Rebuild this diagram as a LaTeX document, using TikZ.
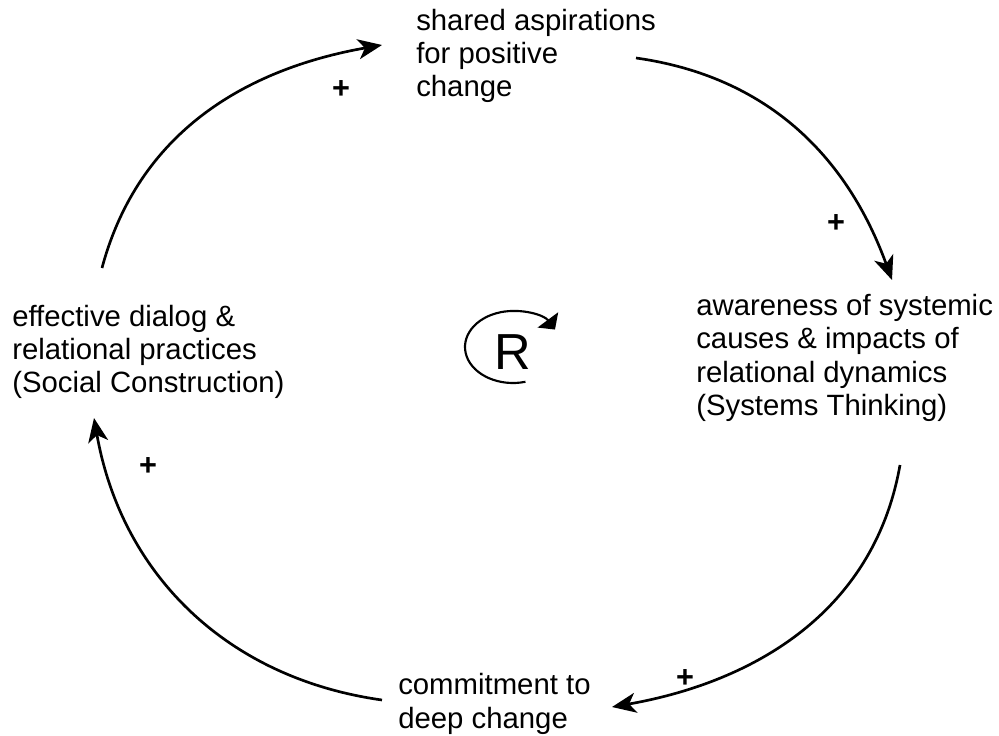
\documentclass[tikz,border=0pt]{standalone}
\usepackage{fontspec}
\setmainfont{Liberation Sans}
\usetikzlibrary{arrows.meta}
\begin{document}
\begin{tikzpicture}[x=0.75pt,y=0.75pt,
  lbl/.style={font=\fontsize{22}{25}\selectfont, align=left, inner sep=0pt},
  link/.style={line width=2pt, -{Stealth[length=18pt,width=15pt,inset=5pt]}},
  pol/.style={font=\fontsize{23}{25}\selectfont\bfseries, inner sep=0pt}]
\useasboundingbox (0,0) rectangle (999,-735);

\node[lbl, anchor=west] (A) at (416,-56) {shared aspirations\\for positive\\change};
\node[lbl, anchor=west] (B) at (696,-358) {awareness of systemic\\causes \& impacts of\\relational dynamics\\(Systems Thinking)};
\node[lbl, anchor=west] (C) at (12,-352) {effective dialog \&\\relational practices\\(Social Construction)};
\node[lbl, anchor=west] (D) at (398,-704) {commitment to\\deep change};

\coordinate (c1s) at (102,-268);
\coordinate (c1e) at (382,-45);
\coordinate (c2s) at (636,-58);
\coordinate (c2e) at (892,-280);
\coordinate (c3s) at (900,-465);
\coordinate (c3e) at (612,-707);
\coordinate (c4s) at (382,-700);
\coordinate (c4e) at (94,-418);

\draw[link] (c1s) to[out=75,in=190] (c1e);
\draw[link] (c2s) to[out=-8,in=110] (c2e);
\draw[link] (c3s) to[out=-100,in=10] (c3e);
\draw[link] (c4s) to[out=172,in=-80] (c4e);

\node[pol] (p1) at (341,-90) {+};
\node[pol] (p2) at (836,-224) {+};
\node[pol] (p3) at (685,-678) {+};
\node[pol] (p4) at (148,-467) {+};

\node[font=\fontsize{38}{42}\selectfont, inner sep=0pt] (R) at (513,-352) {R};
\draw[line width=1.6pt, -{Triangle[length=9pt,width=19pt]}] ([shift={(-75:48 and 36)}]513,-347) arc[start angle=-75, end angle=-331, x radius=48, y radius=36];
\end{tikzpicture}
\end{document}
